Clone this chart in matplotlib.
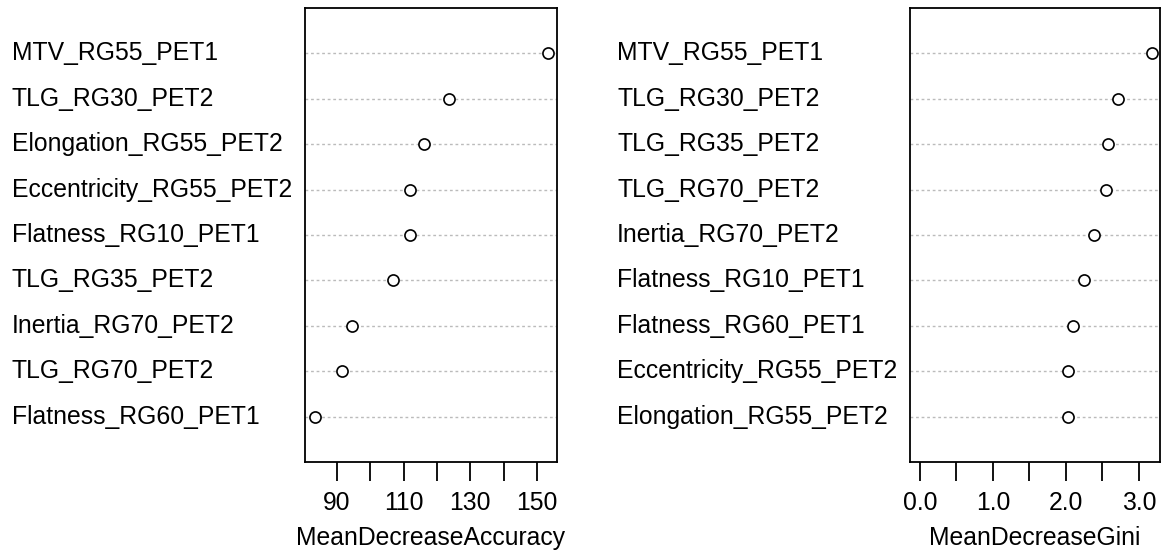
import matplotlib
matplotlib.use("Agg")
from matplotlib import pyplot as plt

plt.rcParams['font.family'] = ['Liberation Sans', 'DejaVu Sans']

acc_labels = ['MTV_RG55_PET1', 'TLG_RG30_PET2', 'Elongation_RG55_PET2',
              'Eccentricity_RG55_PET2', 'Flatness_RG10_PET1', 'TLG_RG35_PET2',
              'Inertia_RG70_PET2', 'TLG_RG70_PET2', 'Flatness_RG60_PET1']
acc_values = [153.3, 123.5, 116.0, 112.0, 112.0, 106.7, 94.5, 91.5, 83.4]

gini_labels = ['MTV_RG55_PET1', 'TLG_RG30_PET2', 'TLG_RG35_PET2',
               'TLG_RG70_PET2', 'Inertia_RG70_PET2', 'Flatness_RG10_PET1',
               'Flatness_RG60_PET1', 'Eccentricity_RG55_PET2', 'Elongation_RG55_PET2']
gini_values = [3.18, 2.71, 2.58, 2.55, 2.38, 2.25, 2.10, 2.03, 2.03]

acc_ticks = [90, 100, 110, 120, 130, 140, 150]
acc_ticklabels = ['90', '', '110', '', '130', '', '150']
gini_ticks = [0.0, 0.5, 1.0, 1.5, 2.0, 2.5, 3.0]
gini_ticklabels = ['0.0', '', '1.0', '', '2.0', '', '3.0']

W, H = 1165, 553
FS = 17.8
fig = plt.figure(figsize=(W / 100, H / 100), dpi=100)


def dot_panel(rect, labels, values, xlim, ticks, ticklabels, xlabel, label_x):
    ax = fig.add_axes(rect)
    n = len(values)
    ypos = list(range(n, 0, -1))
    for y in ypos:
        ax.axhline(y, color='#bbbbbb', linestyle=(0, (2, 2)), linewidth=1, zorder=1)
    ax.plot(values, ypos, linestyle='none', marker='o', markersize=8,
            markerfacecolor='white', markeredgecolor='black', markeredgewidth=1.2, zorder=3)
    ax.set_xlim(xlim)
    ax.set_ylim(0, n + 1)
    ax.set_yticks([])
    ax.set_xticks(ticks)
    ax.set_xticklabels(ticklabels, fontsize=FS)
    ax.tick_params(axis='x', length=14, width=1.3, pad=7, direction='out')
    ax.set_xlabel(xlabel, fontsize=FS, labelpad=8)
    for s in ax.spines.values():
        s.set_linewidth(1.3)
    for lab, y in zip(labels, ypos):
        ax.text(label_x, y, lab, transform=ax.get_yaxis_transform(), fontsize=FS,
                ha='left', va='center')
    return ax


left_rect = [305 / W, (H - 462) / H, 252 / W, 454 / H]
right_rect = [910 / W, (H - 462) / H, 250 / W, 454 / H]

dot_panel(left_rect, acc_labels, acc_values, (80.4, 156.0), acc_ticks,
          acc_ticklabels, 'MeanDecreaseAccuracy', -(305 - 12) / 252)
dot_panel(right_rect, gini_labels, gini_values, (-0.137, 3.29), gini_ticks,
          gini_ticklabels, 'MeanDecreaseGini', -(910 - 617) / 250)

fig.savefig('out.png', dpi=100)
